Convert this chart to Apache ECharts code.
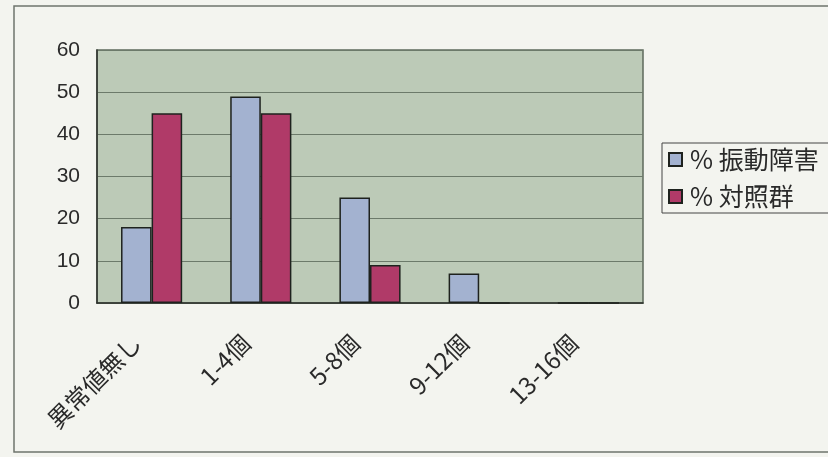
<!DOCTYPE html>
<html>
<head>
<meta charset="utf-8">
<script src="https://cdn.jsdelivr.net/npm/echarts@6/dist/echarts.min.js"></script>
<style>
  html, body { margin: 0; padding: 0; background: #f3f4ef; }
  #chart { width: 828px; height: 457px; }
</style>
</head>
<body>
<div id="chart"></div>
<script>
// Categories: number of abnormal values
const categories = ['異常値無し', '1-4個', '5-8個', '9-12個', '13-16個'];
// Percentages per group
const vibrationDisorder = [18, 49, 25, 7, 0];
const controlGroup = [45, 45, 9, 0, 0];
const seriesNames = ['% 振動障害', '% 対照群'];
const yTicks = { min: 0, max: 60, interval: 10 };

const chart = echarts.init(document.getElementById('chart'), null, { renderer: 'canvas' });
const font = '"Noto Sans CJK JP", "Noto Sans", sans-serif';
const numFont = '"Liberation Sans", Arial, sans-serif';

chart.setOption({
  backgroundColor: '#f3f4ef',
  animation: false,
  textStyle: { fontFamily: font },
  graphic: [
    {
      // outer chart frame, running past the right edge
      type: 'rect',
      shape: { x: 14, y: 6, width: 830, height: 446 },
      style: { fill: 'none', stroke: '#6f746e', lineWidth: 1.5 },
      z: -1
    },
    {
      // legend frame, also running past the right edge
      type: 'rect',
      shape: { x: 662, y: 143, width: 200, height: 70 },
      style: { fill: 'none', stroke: '#444', lineWidth: 1 },
      z: 10
    }
  ],
  legend: {
    orient: 'vertical',
    left: 662,
    top: 143,
    padding: [4, 6, 4, 6],
    itemGap: 12,
    itemWidth: 13,
    itemHeight: 13,
    icon: 'rect',
    borderWidth: 0,
    textStyle: { fontSize: 25, color: '#2a2a2a', fontFamily: font, padding: [0, 0, 0, 3] },
    data: seriesNames
  },
  grid: {
    left: 97, right: 185, top: 50, bottom: 154,
    show: true,
    backgroundColor: '#bccab7',
    borderColor: '#5d6a5c',
    borderWidth: 1.5
  },
  xAxis: {
    type: 'category',
    data: categories,
    axisLine: { lineStyle: { color: '#2c302c', width: 1.5 } },
    axisTick: { inside: true, length: 5, lineStyle: { color: '#2c302c' } },
    axisLabel: {
      rotate: 45,
      fontSize: 24,
      color: '#2a2a2a',
      margin: 21,
      padding: [0, 21, 0, 0],
      fontFamily: font
    }
  },
  yAxis: {
    type: 'value',
    min: yTicks.min,
    max: yTicks.max,
    interval: yTicks.interval,
    axisLine: { show: true, lineStyle: { color: '#2c302c', width: 1.5 } },
    axisTick: { show: false },
    splitLine: { lineStyle: { color: '#6c7a6a', width: 1 } },
    axisLabel: { fontSize: 21, color: '#2a2a2a', margin: 17, fontFamily: numFont }
  },
  series: [
    {
      name: seriesNames[0],
      type: 'bar',
      data: vibrationDisorder,
      barGap: '0%',
      barCategoryGap: '44%',
      itemStyle: { color: '#a3b2d0', borderColor: '#1e221e', borderWidth: 1.5 }
    },
    {
      name: seriesNames[1],
      type: 'bar',
      data: controlGroup,
      barGap: '0%',
      barCategoryGap: '44%',
      itemStyle: { color: '#b03a68', borderColor: '#1e221e', borderWidth: 1.5 }
    }
  ]
});
</script>
</body>
</html>
